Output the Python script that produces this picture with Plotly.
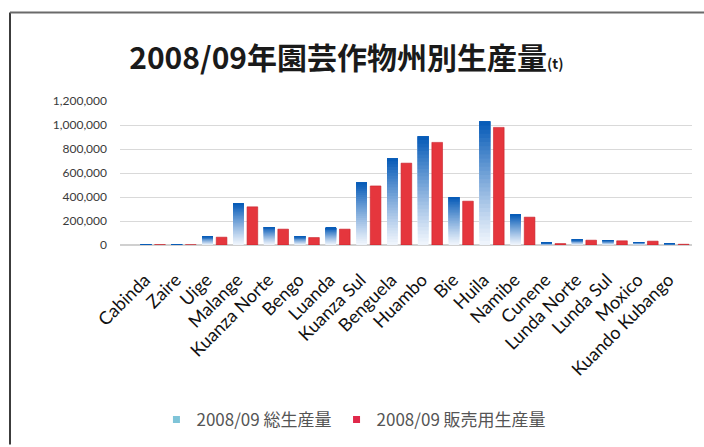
import plotly.graph_objects as go

# Provinces of Angola
provinces = [
    "Cabinda", "Zaire", "Uige", "Malange", "Kuanza Norte", "Bengo", "Luanda",
    "Kuanza Sul", "Benguela", "Huambo", "Bie", "Huila", "Namibe", "Cunene",
    "Lunda Norte", "Lunda Sul", "Moxico", "Kuando Kubango",
]

# Horticultural production 2008/09 (t)
total_production = [
    5000, 4000, 72000, 345000, 150000, 72000, 142000,
    522000, 722000, 905000, 398000, 1030000, 252000, 18000,
    45000, 40000, 25000, 10000,
]
sales_production = [
    3000, 2000, 65000, 318000, 132000, 62000, 132000,
    492000, 682000, 855000, 365000, 980000, 232000, 12000,
    40000, 35000, 32000, 6000,
]

name_total = "2008/09 総生産量"
name_sales = "2008/09 販売用生産量"

fig = go.Figure()

# Blue bars with a vertical gradient: overlapping slices (each from its base up to
# the full value) in one offset group, darker slices drawn over lighter ones
N_SLICES = 30
light = (238, 244, 252)
dark = (8, 92, 184)
for k in range(N_SLICES):
    t = k / (N_SLICES - 1)
    c = tuple(int(round(light[i] + (dark[i] - light[i]) * t ** 1.1)) for i in range(3))
    fig.add_trace(go.Bar(
        x=provinces,
        y=[v * (1 - k / N_SLICES) for v in total_production],
        base=[v * k / N_SLICES for v in total_production],
        offsetgroup="total",
        showlegend=False,
        marker=dict(color="rgb(%d,%d,%d)" % c, line=dict(width=0)),
        hoverinfo="skip",
    ))

fig.add_trace(go.Bar(
    x=provinces,
    y=sales_production,
    offsetgroup="sales",
    name=name_sales,
    showlegend=False,
    marker=dict(color="#e5363d", line=dict(width=0.6, color="#c8202a")),
))

# Legend entries with small square swatches
fig.add_trace(go.Scatter(
    x=[provinces[0]], y=[None], mode="markers", name=name_total,
    marker=dict(symbol="square", size=7, color="#7fc4d8"),
))
fig.add_trace(go.Scatter(
    x=[provinces[0]], y=[None], mode="markers", name=name_sales,
    marker=dict(symbol="square", size=7, color="#e0284a"),
))

fig.update_layout(
    width=704,
    height=447,
    paper_bgcolor="white",
    plot_bgcolor="white",
    barmode="group",
    bargap=0.09,
    bargroupgap=0.24,
    margin=dict(l=120, r=12, t=101, b=201),
    title=dict(
        text="2008/09年園芸作物州別生産量<span style='font-size:14px'>(t)</span>",
        font=dict(family="Noto Sans CJK JP", size=30, color="#1a1a1a", weight="bold"),
        x=0.492, xanchor="center", xref="container",
        y=0.870, yanchor="middle", yref="container",
    ),
    font=dict(family="Lato", color="#222222"),
    legend=dict(
        orientation="h",
        x=0.409, xanchor="center",
        y=-1.2, yanchor="middle",
        font=dict(family="Noto Sans CJK JP", size=17, color="#555555"),
        itemwidth=30,
        traceorder="normal",
    ),
    showlegend=True,
)

fig.update_yaxes(
    range=[0, 1200000],
    dtick=200000,
    tickformat=",d",
    showgrid=True,
    gridcolor="#d9d9d9",
    gridwidth=1,
    zeroline=True,
    zerolinecolor="#d0d0d0",
    tickfont=dict(family="Lato", size=12, color="#3a3a3a"),
    ticklabelstandoff=12,
)

fig.update_xaxes(
    tickangle=-45,
    tickfont=dict(family="Lato", size=18, color="#111111"),
    ticklabelstandoff=20,
    ticklabelshift=-8,
    showline=False,
    ticks="",
)

# Chart-area frame (left and top edges)
fig.add_shape(type="line", xref="paper", yref="paper",
              x0=(10 - 120) / 572, x1=(10 - 120) / 572,
              y0=(246 - 12) / 145, y1=(246 - 447) / 145,
              line=dict(color="#3c3c3c", width=2))
fig.add_shape(type="line", xref="paper", yref="paper",
              x0=(10 - 120) / 572, x1=(704 - 120) / 572,
              y0=(246 - 12) / 145, y1=(246 - 12) / 145,
              line=dict(color="#6a6a6a", width=2))

fig.write_html("out.html")
